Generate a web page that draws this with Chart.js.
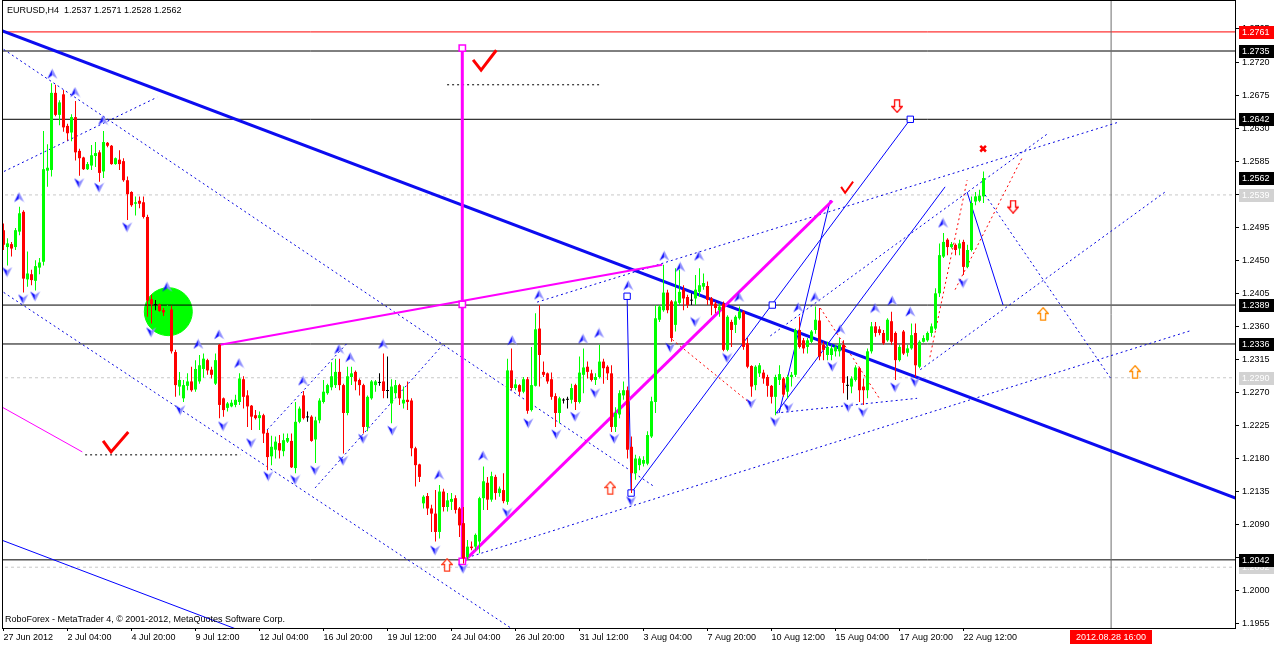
<!DOCTYPE html>
<html>
<head>
<meta charset="utf-8">
<script src="https://cdn.jsdelivr.net/npm/chart.js@4.4.1/dist/chart.umd.min.js"></script>
<style>
  html, body { margin:0; padding:0; background:#fff; overflow:hidden; }
  #wrap { width:1274px; height:645px; }
</style>
</head>
<body>
<div id="wrap"><canvas id="chart" width="1274" height="645"></canvas></div>
<script>
/* ═══════════════════════════════════════════════════════
   EURUSD H4 — wave chart
   ═══════════════════════════════════════════════════════ */

/* ── Candles (bar index 0 = 27 Jun 12:00) ─────────────── */
const barOpen = [
  1.2491,1.2468,1.2472,1.2468,1.2489,1.2516,1.2424,1.2431,1.2422,1.2440,
  1.2448,1.2572,1.2573,1.2678,1.2648,1.2676,1.2633,1.2624,1.2645,1.2599,
  1.2590,1.2574,1.2579,1.2592,1.2597,1.2571,1.2610,1.2606,1.2581,1.2587,
  1.2585,1.2559,1.2543,1.2527,1.2531,1.2529,1.2509,1.2397,1.2389,1.2390,
  1.2382,1.2379,1.2383,1.2325,1.2278,1.2262,1.2279,1.2285,1.2274,1.2285,
  1.2302,1.2314,1.2301,1.2282,1.2335,1.2262,1.2249,1.2251,1.2253,1.2257,
  1.2288,1.2266,1.2252,1.2239,1.2235,1.2239,1.2215,1.2183,1.2192,1.2201,
  1.2190,1.2203,1.2204,1.2167,1.2230,1.2266,1.2236,1.2237,1.2206,1.2232,
  1.2257,1.2269,1.2277,1.2280,1.2298,1.2280,1.2242,1.2291,1.2298,1.2287,
  1.2280,1.2223,1.2262,1.2280,1.2283,1.2285,1.2272,1.2255,1.2269,1.2280,
  1.2255,1.2260,1.2259,1.2194,1.2172,1.2119,1.2129,1.2112,1.2105,1.2080,
  1.2135,1.2114,1.2121,1.2126,1.2112,1.2092,1.2046,1.2060,1.2060,1.2067,
  1.2126,1.2147,1.2124,1.2155,1.2133,1.2137,1.2121,1.2300,1.2276,1.2280,
  1.2271,1.2288,1.2246,1.2279,1.2357,1.2298,1.2296,1.2288,1.2265,1.2242,
  1.2259,1.2260,1.2260,1.2280,1.2257,1.2294,1.2305,1.2296,1.2287,1.2291,
  1.2312,1.2305,1.2296,1.2223,1.2240,1.2266,1.2273,1.2196,1.2160,1.2171,
  1.2173,1.2173,1.2210,1.2257,1.2369,1.2382,1.2406,1.2394,1.2362,1.2392,
  1.2410,1.2400,1.2395,1.2398,1.2407,1.2414,1.2415,1.2398,1.2391,1.2382,
  1.2391,1.2328,1.2366,1.2362,1.2371,1.2380,1.2337,1.2306,1.2280,1.2296,
  1.2297,1.2291,1.2279,1.2264,1.2287,1.2289,1.2271,1.2291,1.2294,1.2355,
  1.2341,1.2332,1.2339,1.2355,1.2368,1.2335,1.2321,1.2321,1.2326,1.2326,
  1.2335,1.2279,1.2278,1.2287,1.2303,1.2278,1.2273,1.2326,1.2360,1.2356,
  1.2351,1.2341,1.2367,1.2351,1.2314,1.2353,1.2324,1.2330,1.2351,1.2305,
  1.2339,1.2341,1.2351,1.2357,1.2405,1.2455,1.2478,1.2468,1.2471,1.2466,
  1.2475,1.2441,1.2464,1.2530,1.2531,1.2537
];
const barHigh = [
  1.2500,1.2480,1.2475,1.2494,1.2523,1.2518,1.2462,1.2437,1.2450,1.2453,
  1.2626,1.2608,1.2691,1.2689,1.2668,1.2682,1.2636,1.2649,1.2667,1.2602,
  1.2591,1.2584,1.2607,1.2611,1.2600,1.2626,1.2611,1.2607,1.2590,1.2600,
  1.2589,1.2564,1.2544,1.2537,1.2537,1.2537,1.2512,1.2403,1.2396,1.2391,
  1.2385,1.2389,1.2388,1.2328,1.2298,1.2287,1.2296,1.2305,1.2314,1.2321,
  1.2323,1.2316,1.2305,1.2323,1.2336,1.2263,1.2257,1.2260,1.2267,1.2296,
  1.2292,1.2273,1.2253,1.2246,1.2244,1.2241,1.2219,1.2211,1.2210,1.2212,
  1.2214,1.2214,1.2214,1.2257,1.2251,1.2272,1.2244,1.2239,1.2237,1.2262,
  1.2287,1.2282,1.2311,1.2316,1.2316,1.2282,1.2305,1.2305,1.2300,1.2289,
  1.2282,1.2266,1.2287,1.2287,1.2296,1.2323,1.2319,1.2288,1.2287,1.2282,
  1.2278,1.2285,1.2262,1.2196,1.2173,1.2130,1.2133,1.2117,1.2137,1.2144,
  1.2139,1.2133,1.2133,1.2130,1.2114,1.2114,1.2069,1.2067,1.2078,1.2128,
  1.2169,1.2155,1.2162,1.2158,1.2142,1.2160,1.2316,1.2330,1.2288,1.2281,
  1.2291,1.2291,1.2332,1.2378,1.2389,1.2312,1.2297,1.2297,1.2269,1.2264,
  1.2262,1.2264,1.2282,1.2282,1.2319,1.2330,1.2312,1.2301,1.2296,1.2335,
  1.2316,1.2307,1.2307,1.2250,1.2273,1.2285,1.2278,1.2210,1.2185,1.2183,
  1.2183,1.2217,1.2264,1.2389,1.2389,1.2444,1.2410,1.2396,1.2439,1.2437,
  1.2416,1.2403,1.2405,1.2430,1.2439,1.2432,1.2421,1.2400,1.2394,1.2391,
  1.2394,1.2375,1.2369,1.2375,1.2387,1.2382,1.2344,1.2307,1.2307,1.2310,
  1.2301,1.2294,1.2280,1.2294,1.2307,1.2291,1.2294,1.2298,1.2357,1.2373,
  1.2344,1.2344,1.2355,1.2387,1.2385,1.2339,1.2339,1.2335,1.2335,1.2344,
  1.2341,1.2292,1.2292,1.2307,1.2305,1.2289,1.2330,1.2366,1.2366,1.2360,
  1.2355,1.2371,1.2380,1.2353,1.2335,1.2355,1.2335,1.2364,1.2364,1.2341,
  1.2348,1.2353,1.2364,1.2412,1.2473,1.2487,1.2480,1.2475,1.2473,1.2478,
  1.2478,1.2471,1.2537,1.2543,1.2546,1.2571
];
const barLow = [
  1.2464,1.2443,1.2455,1.2464,1.2484,1.2406,1.2414,1.2416,1.2409,1.2431,
  1.2443,1.2550,1.2564,1.2646,1.2634,1.2625,1.2613,1.2612,1.2586,1.2565,
  1.2573,1.2573,1.2573,1.2577,1.2557,1.2562,1.2604,1.2580,1.2580,1.2573,
  1.2557,1.2505,1.2523,1.2511,1.2521,1.2507,1.2373,1.2364,1.2382,1.2380,
  1.2374,1.2375,1.2323,1.2264,1.2266,1.2257,1.2273,1.2271,1.2271,1.2282,
  1.2290,1.2294,1.2289,1.2280,1.2235,1.2237,1.2244,1.2250,1.2250,1.2253,
  1.2248,1.2223,1.2219,1.2233,1.2219,1.2201,1.2164,1.2171,1.2180,1.2180,
  1.2183,1.2201,1.2167,1.2160,1.2228,1.2233,1.2230,1.2203,1.2174,1.2228,
  1.2255,1.2267,1.2273,1.2276,1.2273,1.2187,1.2239,1.2280,1.2273,1.2266,
  1.2214,1.2217,1.2260,1.2271,1.2279,1.2262,1.2262,1.2228,1.2262,1.2253,
  1.2248,1.2246,1.2183,1.2142,1.2148,1.2112,1.2103,1.2080,1.2067,1.2071,
  1.2108,1.2108,1.2110,1.2105,1.2073,1.2037,1.2042,1.2055,1.2055,1.2051,
  1.2110,1.2110,1.2121,1.2124,1.2128,1.2119,1.2117,1.2273,1.2273,1.2266,
  1.2269,1.2241,1.2244,1.2278,1.2278,1.2291,1.2282,1.2260,1.2223,1.2228,
  1.2255,1.2248,1.2255,1.2246,1.2255,1.2269,1.2289,1.2285,1.2280,1.2289,
  1.2282,1.2287,1.2216,1.2216,1.2235,1.2260,1.2180,1.2133,1.2151,1.2164,
  1.2169,1.2171,1.2208,1.2242,1.2366,1.2380,1.2378,1.2339,1.2353,1.2389,
  1.2382,1.2385,1.2389,1.2389,1.2400,1.2410,1.2389,1.2375,1.2378,1.2373,
  1.2326,1.2326,1.2332,1.2351,1.2369,1.2328,1.2303,1.2264,1.2273,1.2291,
  1.2282,1.2264,1.2255,1.2239,1.2280,1.2264,1.2262,1.2278,1.2291,1.2330,
  1.2323,1.2323,1.2337,1.2350,1.2314,1.2314,1.2314,1.2314,1.2319,1.2319,
  1.2269,1.2260,1.2269,1.2285,1.2257,1.2253,1.2262,1.2323,1.2346,1.2348,
  1.2335,1.2339,1.2335,1.2287,1.2312,1.2321,1.2319,1.2328,1.2291,1.2303,
  1.2338,1.2339,1.2346,1.2355,1.2400,1.2453,1.2457,1.2466,1.2457,1.2457,
  1.2430,1.2439,1.2462,1.2525,1.2529,1.2528
];
const barClose = [
  1.2471,1.2473,1.2466,1.2491,1.2514,1.2425,1.2432,1.2423,1.2442,1.2447,
  1.2574,1.2576,1.2678,1.2648,1.2665,1.2631,1.2623,1.2645,1.2597,1.2589,
  1.2574,1.2581,1.2593,1.2596,1.2569,1.2611,1.2606,1.2581,1.2589,1.2581,
  1.2559,1.2540,1.2525,1.2529,1.2527,1.2509,1.2395,1.2390,1.2389,1.2381,
  1.2379,1.2385,1.2326,1.2280,1.2287,1.2280,1.2285,1.2273,1.2302,1.2307,
  1.2316,1.2300,1.2294,1.2314,1.2253,1.2246,1.2255,1.2256,1.2260,1.2289,
  1.2264,1.2251,1.2237,1.2235,1.2239,1.2214,1.2182,1.2196,1.2203,1.2191,
  1.2205,1.2208,1.2168,1.2230,1.2248,1.2235,1.2236,1.2204,1.2232,1.2259,
  1.2271,1.2280,1.2292,1.2298,1.2280,1.2242,1.2292,1.2296,1.2285,1.2280,
  1.2223,1.2264,1.2285,1.2285,1.2283,1.2272,1.2272,1.2278,1.2280,1.2262,
  1.2260,1.2257,1.2194,1.2171,1.2155,1.2128,1.2112,1.2105,1.2080,1.2135,
  1.2114,1.2123,1.2125,1.2110,1.2089,1.2044,1.2060,1.2058,1.2076,1.2126,
  1.2149,1.2124,1.2156,1.2133,1.2139,1.2122,1.2300,1.2276,1.2281,1.2271,
  1.2288,1.2245,1.2280,1.2356,1.2321,1.2294,1.2285,1.2264,1.2242,1.2262,
  1.2259,1.2260,1.2276,1.2257,1.2297,1.2304,1.2298,1.2287,1.2291,1.2312,
  1.2303,1.2296,1.2223,1.2242,1.2269,1.2273,1.2192,1.2160,1.2180,1.2180,
  1.2178,1.2212,1.2258,1.2371,1.2387,1.2406,1.2382,1.2344,1.2394,1.2407,
  1.2398,1.2389,1.2395,1.2410,1.2416,1.2419,1.2396,1.2389,1.2385,1.2387,
  1.2328,1.2373,1.2355,1.2373,1.2380,1.2332,1.2305,1.2278,1.2305,1.2307,
  1.2289,1.2279,1.2264,1.2291,1.2295,1.2267,1.2291,1.2294,1.2355,1.2332,
  1.2330,1.2341,1.2353,1.2369,1.2319,1.2328,1.2332,1.2330,1.2332,1.2335,
  1.2283,1.2279,1.2289,1.2304,1.2273,1.2273,1.2326,1.2360,1.2351,1.2351,
  1.2337,1.2369,1.2339,1.2314,1.2332,1.2323,1.2330,1.2348,1.2307,1.2339,
  1.2344,1.2351,1.2360,1.2405,1.2457,1.2475,1.2468,1.2472,1.2464,1.2473,
  1.2441,1.2464,1.2528,1.2537,1.2538,1.2562
];

/* ── Axes ──────────────────────────────────────────────── */
const xTickIdx    = [0,16,32,48,64,80,96,112,128,144,160,176,192,208,224,240];
const xTickLabels = ['27 Jun 2012','2 Jul 04:00','4 Jul 20:00','9 Jul 12:00','12 Jul 04:00',
                     '16 Jul 20:00','19 Jul 12:00','24 Jul 04:00','26 Jul 20:00','31 Jul 12:00',
                     '3 Aug 04:00','7 Aug 20:00','10 Aug 12:00','15 Aug 04:00','17 Aug 20:00','22 Aug 12:00'];
const yTicks = [1.1955,1.2000,1.2045,1.2090,1.2135,1.2180,1.2225,1.2270,1.2315,1.2360,
                1.2405,1.2450,1.2495,1.2540,1.2585,1.2630,1.2675,1.2720,1.2765];
const xMin = -0.125, xMax = 307.875;
const yMin = 1.19492, yMax = 1.28031;
const futureIdx   = [276.9];
const futureLabel = ['2012.08.28 16:00'];

/* ── Price levels ──────────────────────────────────────── */
const blackLevels = [1.2735, 1.2642, 1.2389, 1.2336, 1.2042];
const redLevels   = [1.2761];
const grayLevels  = [1.2539, 1.2290, 1.2032];
const bidTag      = [1.2562];

/* ── Drawn objects: [x1, price1, x2, price2] ───────────── */
const thickTrend   = [[-1,1.2764,309,1.2124]];
const blueSolid    = [[-1,1.2070,60,1.1944],[155.9,1.2401,156.9,1.2133],[156.9,1.2133,226.7,1.2642],
                      [193.9,1.2242,206.7,1.2532],[193.2,1.2242,235.4,1.2550],[240.9,1.2543,249.9,1.2389]];
const blueDotted   = [[-1,1.2568,38.4,1.2672],[-1,1.2741,162.9,1.2141],[-1,1.2410,128,1.1945],
                      [65.9,1.2219,85.9,1.2337],[77.9,1.2140,109.7,1.2334],[133.4,1.2393,278.7,1.2638],
                      [115.9,1.2045,296.7,1.2354],[193.2,1.2242,228.4,1.2262],[229.2,1.2301,290.4,1.2543],
                      [245.4,1.2539,276.7,1.2290],[191.7,1.2347,261.2,1.2623]];
const redDashed    = [[167.2,1.2342,187.2,1.2253],[204.2,1.2385,219.2,1.2260],
                      [231.6,1.2318,240.9,1.2559],[237.9,1.2410,254.6,1.2589]];
const blackDotted  = [[110.9,1.2689,149.2,1.2689],[20.4,1.2185,59.2,1.2185]];
const magentaThick = [[114.7,1.2739,114.7,1.2040],[114.9,1.2039,207.2,1.2531]];
const magentaMid   = [[54.2,1.2335,164.7,1.2444]];
const magentaThin  = [[-1,1.2252,19.7,1.2189]];
const checkMarks   = [[[117.4,1.2723],[119.4,1.2709],[123.2,1.2736]],
                      [[24.9,1.2204],[26.9,1.2189],[31.2,1.2216]]];
const checkSmall   = [[[209.4,1.2550],[210.4,1.2542],[212.4,1.2557]]];

/* ── Point objects: [x, price] ────────────────────────── */
const magentaBoxes = [[114.7,1.2739],[114.7,1.2390],[114.7,1.2040]];
const blueBoxes    = [[155.9,1.2401],[156.9,1.2133],[192.2,1.2389],[226.7,1.2642]];
const greenBall    = [[41.2,1.2380]];
const redCross     = [[244.9,1.2602]];
const upArrowsRed  = [[110.9,1.2035],[151.7,1.2140]];
const upArrowsOrg  = [[259.9,1.2377],[282.9,1.2298]];
const downArrows   = [[223.4,1.2660],[252.4,1.2523]];
const fractalUp = [
  [12.2,1.2704],[17.9,1.2679],[24.9,1.2641],[3.9,1.2536],[40.9,1.2414],[48.7,1.2336],[53.9,1.2349],
  [58.9,1.2310],[74.9,1.2286],[83.9,1.2329],[86.7,1.2318],[94.9,1.2336],[108.9,1.2158],[119.9,1.2184],
  [127.2,1.2341],[133.9,1.2403],[144.9,1.2343],[148.9,1.2351],[156.2,1.2416],[165.2,1.2456],
  [169.2,1.2441],[173.9,1.2456],[183.9,1.2400],[198.7,1.2386],[202.9,1.2400],[209.2,1.2356],
  [217.9,1.2385],[222.2,1.2395],[226.7,1.2380],[234.9,1.2501]
];
const fractalDown = [
  [0.9,1.2434],[4.9,1.2397],[7.9,1.2401],[18.9,1.2555],[23.9,1.2549],[30.9,1.2495],[36.9,1.2352],
  [44.2,1.2246],[54.9,1.2224],[61.9,1.2201],[66.2,1.2156],[72.9,1.2151],[77.9,1.2164],[84.9,1.2177],
  [89.9,1.2207],[97.2,1.2218],[107.9,1.2055],[114.9,1.2030],[125.9,1.2106],[131.2,1.2228],
  [138.2,1.2213],[142.9,1.2237],[147.9,1.2269],[152.7,1.2207],[156.9,1.2122],[166.7,1.2331],
  [172.9,1.2366],[180.9,1.2317],[186.9,1.2255],[192.9,1.2230],[196.2,1.2249],[207.2,1.2305],
  [211.2,1.2250],[214.9,1.2243],[222.9,1.2277],[227.9,1.2284],[239.9,1.2419]
];

const FONT = '"Liberation Sans", Arial, sans-serif';

/* ── small glyph canvases for point styles ─────────────── */
function fractalGlyph(up) {
  const c = document.createElement('canvas'); c.width = 11; c.height = 11;
  const g = c.getContext('2d');
  const t = up ? 0.5 : 10.5, b = up ? 10.5 : 0.5, n = up ? 7 : 4;
  g.beginPath(); g.moveTo(5.5,t); g.lineTo(0.5,b); g.lineTo(5.5,n); g.closePath();
  g.fillStyle = '#1010ff'; g.fill();
  g.beginPath(); g.moveTo(5.5,t); g.lineTo(10.5,b); g.lineTo(5.5,n); g.closePath();
  g.fillStyle = '#8c8cff'; g.fill();
  return c;
}
function hollowArrow(color, up) {
  const c = document.createElement('canvas'); c.width = 12; c.height = 14;
  const g = c.getContext('2d');
  const pts = [[6,0.8],[11.2,6.5],[8.5,6.5],[8.5,13.2],[3.5,13.2],[3.5,6.5],[0.8,6.5]];
  g.beginPath();
  pts.forEach(([px,py],i) => { const yy = up ? py : 14 - py; i ? g.lineTo(px,yy) : g.moveTo(px,yy); });
  g.closePath();
  g.fillStyle = '#fff'; g.fill();
  g.strokeStyle = color; g.lineWidth = 1.3; g.stroke();
  return c;
}

/* ── dataset helpers ───────────────────────────────────── */
const pts = arr => arr.map(p => ({x:p[0], y:p[1]}));
function segs(list, color, width, dash, order) {
  return list.map(s => ({
    type:'line', data:[{x:s[0],y:s[1]},{x:s[2],y:s[3]}],
    borderColor:color, borderWidth:width, borderDash:dash, pointRadius:0,
    tension:0, fill:false, order
  }));
}
function polys(list, color, width, order) {
  return list.map(p => ({
    type:'line', data:pts(p), borderColor:color, borderWidth:width,
    borderJoinStyle:'miter', pointRadius:0, tension:0, fill:false, order
  }));
}
function marks(list, extra, order) {
  return Object.assign({ type:'scatter', data:pts(list), order, pointRadius:5 }, extra);
}
const fullWidth = (levels) => levels.map(v => [xMin - 1, v, xMax + 1, v]);

/* ── candle colours ────────────────────────────────────── */
const candleCol = barOpen.map((o,i) =>
  barClose[i] > o ? '#00ff00' : (barClose[i] < o ? '#ff0000' : '#000000'));

const datasets = [
  marks(greenBall, { pointStyle:'circle', pointRadius:24, backgroundColor:'#00ff00', borderColor:'#00ff00' }, 100),
  ...segs(fullWidth(grayLevels), '#c8c8c8', 1, [3,3], 95),
  ...segs(fullWidth(blackLevels), '#000000', 1, [], 92),
  ...segs(fullWidth(redLevels), '#ff0000', 1, [], 92),
  ...segs([[futureIdx[0], yMin - 1, futureIdx[0], yMax + 1]], '#6e6e6e', 1, [], 91),
  ...segs(blueDotted, '#0000e0', 1, [2,3], 85),
  ...segs(blackDotted, '#000000', 1, [2,3], 85),
  ...segs(redDashed, '#ff0000', 1, [2,3], 85),
  ...segs(blueSolid, '#0000ff', 1, [], 80),
  ...segs(thickTrend, '#0c0cf0', 3, [], 78),
  ...segs(magentaThin, '#ff00ff', 1, [], 76),
  ...segs(magentaMid, '#ff00ff', 2, [], 75),
  ...segs(magentaThick, '#ff00ff', 3, [], 75),
  marks(magentaBoxes, { pointStyle:'rect', pointRadius:4.5, backgroundColor:'#ffffff', borderColor:'#ff00ff', borderWidth:1.5 }, 74),
  marks(blueBoxes, { pointStyle:'rect', pointRadius:4.5, backgroundColor:'#ffffff', borderColor:'#0000ff', borderWidth:1 }, 74),
  ...polys(checkMarks, '#ff0000', 3, 73),
  ...polys(checkSmall, '#ff0000', 2, 73),
  marks(upArrowsRed, { pointStyle:hollowArrow('#ff3c1e', true) }, 72),
  marks(upArrowsOrg, { pointStyle:hollowArrow('#ff8c00', true) }, 72),
  marks(downArrows,  { pointStyle:hollowArrow('#ff0000', false) }, 72),
  marks(redCross, { pointStyle:'crossRot', pointRadius:4, borderColor:'#ff0000', borderWidth:2.5 }, 72),
  {
    type:'bar', order:60, grouped:false, barThickness:1, inflateAmount:0, minBarLength:1,
    data: barOpen.map((o,i) => ({ x:i, y:[barLow[i], barHigh[i]] })),
    backgroundColor:candleCol, borderWidth:0
  },
  {
    type:'bar', order:59, grouped:false, barThickness:3, inflateAmount:0, minBarLength:1,
    data: barOpen.map((o,i) => ({ x:i, y:[Math.min(o,barClose[i]), Math.max(o,barClose[i])] })),
    backgroundColor:candleCol, borderWidth:0
  },
  marks(fractalUp,   { pointStyle:fractalGlyph(true) }, 10),
  marks(fractalDown, { pointStyle:fractalGlyph(false) }, 10)
];

/* ── frame, price tags, captions ───────────────────────── */
const decor = {
  id:'decor',
  afterDraw(chart) {
    const { ctx, chartArea:a, scales:{ x, y } } = chart;
    ctx.save();
    ctx.strokeStyle = '#000'; ctx.lineWidth = 1;
    ctx.strokeRect(a.left - 0.5, a.top - 0.5, a.right - a.left + 1, a.bottom - a.top + 1);

    ctx.font = '9px ' + FONT;
    ctx.textBaseline = 'middle';
    const tag = (v, bg) => {
      const py = Math.round(y.getPixelForValue(v));
      ctx.fillStyle = bg; ctx.fillRect(a.right + 4, py - 6, chart.width - a.right - 4, 13);
      ctx.fillStyle = '#fff'; ctx.fillText(v.toFixed(4), a.right + 7, py + 0.5);
    };
    grayLevels.forEach(v => tag(v, '#d2d2d2'));
    blackLevels.forEach(v => tag(v, '#000000'));
    bidTag.forEach(v => tag(v, '#000000'));
    redLevels.forEach(v => tag(v, '#ff0000'));

    // future time tag
    const fx = Math.round(x.getPixelForValue(futureIdx[0]));
    ctx.fillStyle = '#ff0000'; ctx.fillRect(fx - 41, a.bottom + 2, 82, 14);
    ctx.fillStyle = '#fff'; ctx.textAlign = 'center';
    ctx.fillText(futureLabel[0], fx, a.bottom + 9.5);

    // captions
    ctx.textAlign = 'left'; ctx.fillStyle = '#000';
    ctx.fillText('EURUSD,H4  1.2537 1.2571 1.2528 1.2562', a.left + 4, a.top + 10);
    ctx.fillText('RoboForex - MetaTrader 4, \u00a9 2001-2012, MetaQuotes Software Corp.', a.left + 2, a.bottom - 8);
    ctx.restore();
  }
};

new Chart(document.getElementById('chart'), {
  type:'bar',
  data:{ datasets },
  plugins:[decor],
  options:{
    responsive:false, animation:false, devicePixelRatio:1, events:[],
    layout:{ autoPadding:false, padding:{ left:3, top:1, right:0, bottom:0 } },
    plugins:{ legend:{ display:false }, tooltip:{ enabled:false } },
    scales:{
      x:{
        type:'linear', min:xMin, max:xMax, offset:false,
        grid:{ offset:false, drawOnChartArea:false, tickLength:3, color:'#000' },
        border:{ display:false },
        afterBuildTicks: s => { s.ticks = xTickIdx.map(v => ({ value:v })); },
        afterFit: s => { s.height = 17; s.paddingLeft = 0; s.paddingRight = 0; },
        ticks:{
          align:'start', padding:1, autoSkip:false, maxRotation:0, color:'#000',
          font:{ family:FONT, size:9 },
          callback: v => xTickLabels[xTickIdx.indexOf(v)]
        }
      },
      y:{
        type:'linear', position:'right', min:yMin, max:yMax, beginAtZero:false,
        grid:{ drawOnChartArea:false, tickLength:4, color:'#000' },
        border:{ display:false },
        afterBuildTicks: s => { s.ticks = yTicks.map(v => ({ value:v })); },
        afterFit: s => { s.width = 39; s.paddingTop = 0; s.paddingBottom = 0; },
        ticks:{
          padding:3, autoSkip:false, color:'#000',
          font:{ family:FONT, size:9 },
          callback: v => v.toFixed(4)
        }
      }
    }
  }
});
</script>
</body>
</html>
